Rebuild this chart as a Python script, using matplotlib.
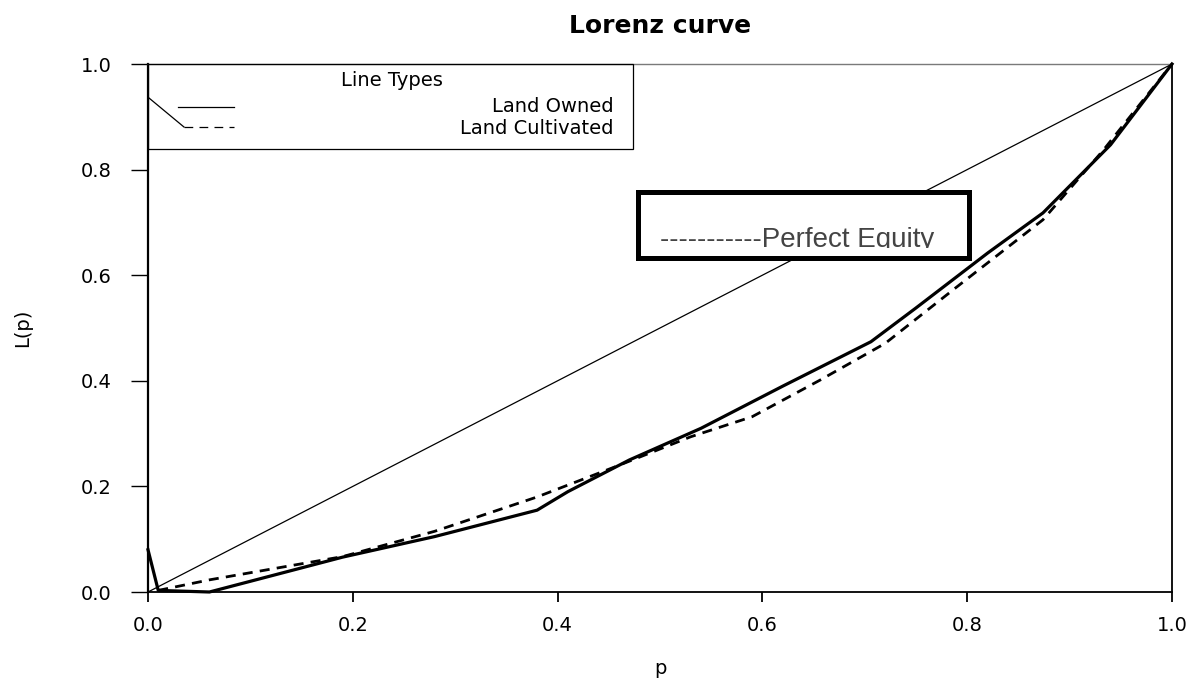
import matplotlib
matplotlib.use("Agg")
import matplotlib.pyplot as plt
from matplotlib.patches import Rectangle
from matplotlib.lines import Line2D
from matplotlib.transforms import Bbox, TransformedBbox

# ---- data ----
p_owned = [0.0, 0.01, 0.06, 0.19, 0.28, 0.38, 0.41, 0.47, 0.54, 0.62, 0.706, 0.75, 0.82, 0.874, 0.94, 1.0]
L_owned = [0.08, 0.003, 0.0, 0.066, 0.105, 0.155, 0.19, 0.25, 0.31, 0.39, 0.474, 0.538, 0.642, 0.718, 0.847, 1.0]

p_cult = [0.01, 0.06, 0.19, 0.28, 0.38, 0.46, 0.53, 0.59, 0.656, 0.72, 0.79, 0.874, 0.933, 1.0]
L_cult = [0.003, 0.023, 0.067, 0.115, 0.18, 0.24, 0.294, 0.332, 0.401, 0.471, 0.578, 0.705, 0.837, 1.0]

p_equal = [0.0, 1.0]
L_equal = [0.0, 1.0]

ticks = [0.0, 0.2, 0.4, 0.6, 0.8, 1.0]
tick_labels = ["0.0", "0.2", "0.4", "0.6", "0.8", "1.0"]

title = "Lorenz curve"
xlabel = "p"
ylabel = "L(p)"
legend_title = "Line Types"
legend_labels = ["Land Owned", "Land Cultivated"]
equity_text = "-----------Perfect Equity"

# ---- figure ----
W, H = 1195, 679
fig = plt.figure(figsize=(W / 100, H / 100), dpi=100)
ax = fig.add_axes([148 / W, 1 - 592 / H, (1172 - 148) / W, (592 - 64) / H])
ax.set_xlim(0, 1)
ax.set_ylim(0, 1)

font = "DejaVu Sans"

# perfect equality diagonal
ax.plot(p_equal, L_equal, color="black", lw=0.9, zorder=2)
# Land Owned
ax.plot(p_owned, L_owned, color="black", lw=2.3, zorder=3, clip_on=False,
        solid_joinstyle="round")
# Land Cultivated
ax.plot(p_cult, L_cult, color="black", lw=2.0, zorder=3, clip_on=False,
        linestyle=(0, (3.6, 2.6)))

# spines
for s in ["left", "bottom", "right"]:
    ax.spines[s].set_color("black")
ax.spines["left"].set_linewidth(1.6)
ax.spines["bottom"].set_linewidth(1.3)
ax.spines["right"].set_linewidth(1.3)
ax.spines["top"].set_color("#7a7a7a")
ax.spines["top"].set_linewidth(1.0)

ax.set_xticks(ticks)
ax.set_xticklabels(tick_labels, fontsize=14, family=font)
ax.set_yticks(ticks)
ax.set_yticklabels(tick_labels, fontsize=14, family=font)
ax.tick_params(axis="x", direction="out", length=7, width=1.3, pad=10, colors="black")
ax.tick_params(axis="y", direction="out", length=12, width=1.0, pad=14, colors="black")
for t in ax.yaxis.get_ticklines():
    t.set_color("#333333")

ax.set_xlabel(xlabel, fontsize=14, family=font)
ax.set_ylabel(ylabel, fontsize=14, family=font)
ax.xaxis.set_label_coords(0.5, (592 - 659) / 528)
ax.yaxis.set_label_coords((32 - 148) / 1024, 0.5)

ax.set_title(title, fontsize=18, fontweight="bold", family=font,
             y=1 + (64 - 26) / 528, va="center", pad=0)

# ---- "Line Types" legend box (pixel-based layout helpers) ----
def px(x):
    return (x - 147) / 1025

def py(y):
    return (592 - y) / 528

leg_box = Rectangle((0, py(149)), px(632), 1 - py(149), facecolor="none",
                    edgecolor="black", lw=0.9, zorder=4, clip_on=False)
ax.add_patch(leg_box)
ax.text(px(391), py(81), legend_title, ha="center", va="center",
        fontsize=14, family=font, zorder=5)
ax.add_line(Line2D([px(177), px(233)], [py(107), py(107)], color="black", lw=0.9, zorder=5))
ax.add_line(Line2D([px(183), px(233)], [py(127), py(127)], color="black", lw=0.9,
                   linestyle=(0, (7, 5)), zorder=5))
ax.add_line(Line2D([px(148), px(183)], [py(98), py(127)], color="black", lw=0.9, zorder=5))
ax.text(px(613), py(107), legend_labels[0], ha="right", va="center",
        fontsize=14, family=font, zorder=5)
ax.text(px(613), py(129), legend_labels[1], ha="right", va="center",
        fontsize=14, family=font, zorder=5)

# ---- "Perfect Equity" box ----
eq_box = Rectangle((px(637), py(258)), px(969) - px(637), py(192) - py(258),
                   facecolor="white", edgecolor="black", lw=3.6, zorder=6)
ax.add_patch(eq_box)
t = ax.text(px(659), py(247), equity_text, ha="left", va="baseline",
            fontsize=20, family="Liberation Sans", color="#444444", zorder=7)
t.set_clip_on(True)
t.set_clip_box(TransformedBbox(Bbox([[px(637), py(248)], [px(969), py(192)]]),
                               ax.transData))

fig.savefig("out.png", dpi=100, facecolor="white")
